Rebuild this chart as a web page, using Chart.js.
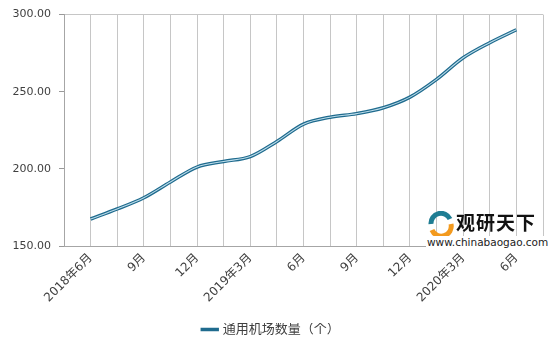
<!DOCTYPE html>
<html>
<head>
<meta charset="utf-8">
<script src="https://cdn.jsdelivr.net/npm/chart.js@4.4.1/dist/chart.umd.min.js"></script>
<style>
  html, body { margin: 0; padding: 0; background: #fff; }
  #wrap { position: relative; width: 549px; height: 342px; overflow: hidden; }
  #mark { position: absolute; left: 424px; top: 210px; width: 120px; height: 37px; font-family: "DejaVu Sans", "Noto Sans CJK SC", sans-serif; }
  #mark .name { position: absolute; left: 32px; top: -2px; font: bold 19px "Noto Sans CJK SC", sans-serif; letter-spacing: 1px; color: #111; }
  #mark .url { position: absolute; left: 2px; top: 26px; background: #fff; font-size: 10.5px; color: #222; padding: 0 1px; }
</style>
</head>
<body>
<div id="wrap">
  <canvas id="myChart" width="549" height="342"></canvas>
  <div id="mark">
    <svg width="30" height="26" style="position:absolute;left:2px;top:1px">
      <path d="M5 13 A10 10 0 0 1 24 8" stroke="#1f7d93" stroke-width="5" fill="none"/>
      <path d="M25 13 A10 10 0 0 1 6 19" stroke="#f39a1e" stroke-width="5" fill="none"/>
    </svg>
    <span class="name">观研天下</span>
    <span class="url">www.chinabaogao.com</span>
  </div>
</div>
<script>
// tick labels (unlabeled categories left blank)
var months = ['2018年6月', '', '9月', '', '12月', '', '2019年3月', '', '6月', '', '9月', '', '12月', '', '2020年3月', '', '6月'];
var airports = [167.5, 174, 181.3, 191.5, 201.2, 204.8, 208, 217.8, 229, 233.5, 235.8, 239.6, 246.5, 258, 272, 281.8, 290.2];
var yTicks = [150, 200, 250, 300];

var labels = [''].concat(months).concat(['']);
var values = [null].concat(airports).concat([null]);

var font = '"DejaVu Sans", "Noto Sans CJK SC", sans-serif';

var ctx = document.getElementById("myChart");

var lineChart = new Chart(ctx, {
	type: 'line',
	data: {
		labels: labels,
		datasets: [
			{
				label: '通用机场数量（个）',
				data: values,
				borderColor: '#1f6b8e',
				backgroundColor: '#1f6b8e',
				borderWidth: 3.5,
				pointRadius: 0,
				cubicInterpolationMode: 'monotone',
				order: 2
			},
			{
				label: 'inner',
				data: values,
				borderColor: '#bcdcea',
				borderWidth: 1.1,
				pointRadius: 0,
				cubicInterpolationMode: 'monotone',
				order: 1
			}
		]
	},
	options: {
		responsive: false,
		animation: false,
		layout: { padding: { left: 0, right: 6, top: 14, bottom: -4 } },
		plugins: {
			tooltip: { enabled: false },
			legend: {
				position: 'bottom',
				labels: {
					filter: function(item) { return item.datasetIndex === 0; },
					usePointStyle: true,
					pointStyle: 'line',
					boxWidth: 28,
					color: '#404040',
					font: { family: font, size: 13 },
					padding: 0
				}
			}
		},
		scales: {
			x: {
				offset: false,
				grid: { color: '#c6c6c6', lineWidth: 1, drawTicks: false },
				border: { color: '#a6a6a6' },
				ticks: {
					autoSkip: false,
					maxRotation: 45,
					minRotation: 45,
					padding: 5,
					color: '#404040',
					font: { family: font, size: 12 }
				},
				afterFit: function(s) { s.height = 77; s.paddingRight = 0; s.paddingLeft = 0; }
			},
			y: {
				min: 150,
				max: 300,
				afterBuildTicks: function(s) { s.ticks = yTicks.map(function(v) { return { value: v }; }); },
				grid: {
					color: function(c) { return c.tick && c.tick.value === 300 ? '#c6c6c6' : 'rgba(0,0,0,0)'; },
					tickColor: '#999',
					tickLength: 5
				},
				border: { color: '#a6a6a6' },
				ticks: {
					padding: 8,
					color: '#404040',
					font: { family: font, size: 11 },
					callback: function(v) { return Number(v).toFixed(2); }
				},
				afterFit: function(s) { s.width = 64; }
			}
		}
	}
});
</script>
</body>
</html>
